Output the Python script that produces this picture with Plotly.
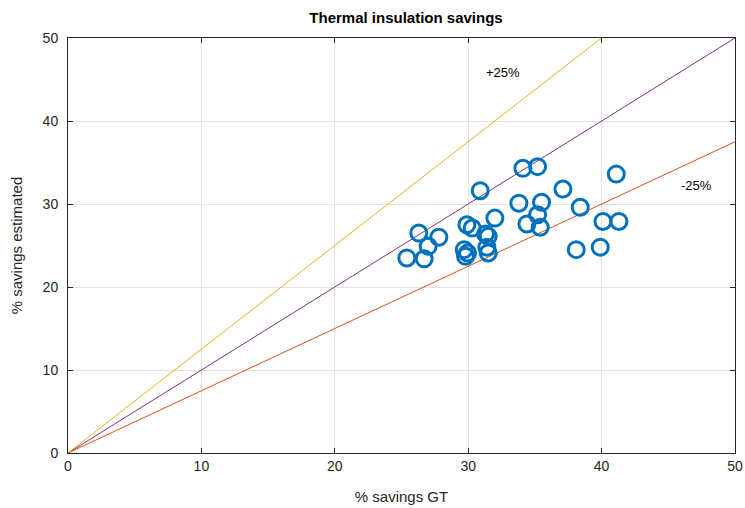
import plotly.graph_objects as go

gt = [25.4, 26.3, 26.7, 27.0, 27.8, 29.9, 30.3, 29.7, 29.8, 29.95, 30.9, 31.3, 31.5, 31.4, 31.5, 32.0,
      34.1, 35.2, 33.8, 34.4, 35.2, 35.5, 35.4, 37.1, 38.4, 38.1, 39.9, 40.1, 41.1, 41.3]
est = [23.5, 26.5, 23.4, 24.9, 26.0, 27.5, 27.1, 24.5, 23.7, 24.1, 31.6, 26.4, 26.1, 24.8, 24.1, 28.3,
       34.3, 34.5, 30.1, 27.6, 28.7, 30.2, 27.2, 31.8, 29.6, 24.5, 24.8, 27.9, 33.6, 27.9]

ref_x = [0, 50]
plus_x = [0, 40]
plus_y = [0, 50]
ident_y = [0, 50]
minus_y = [0, 37.5]

fig = go.Figure()
fig.add_trace(go.Scatter(x=ref_x, y=ident_y, mode="lines", line=dict(color="#7E2F8E", width=1), showlegend=False))
fig.add_trace(go.Scatter(x=plus_x, y=plus_y, mode="lines", line=dict(color="#EDB120", width=1), showlegend=False))
fig.add_trace(go.Scatter(x=ref_x, y=minus_y, mode="lines", line=dict(color="#D95319", width=1), showlegend=False))
fig.add_trace(go.Scatter(x=gt, y=est, mode="markers",
                         marker=dict(symbol="circle-open", size=16, color="#0072BD", line=dict(width=3, color="#0072BD")),
                         showlegend=False))

fig.add_annotation(x=32.6, y=45.8, text="+25%", showarrow=False, font=dict(size=13, color="black"))
fig.add_annotation(x=47.1, y=32.2, text="-25%", showarrow=False, font=dict(size=13, color="black"))

axis_common = dict(range=[0, 50], tickvals=[0, 10, 20, 30, 40, 50], showgrid=True, gridcolor="#e3e3e3",
                   gridwidth=1, zeroline=False, showline=True, linecolor="#262626", linewidth=1, mirror="ticks",
                   ticks="inside", ticklen=5, tickcolor="#262626", tickfont=dict(size=14, color="#262626"),
                   ticklabeloverflow="allow", automargin=False)

fig.update_xaxes(**axis_common, title=dict(text="% savings GT", font=dict(size=15, color="#262626"), standoff=18))
fig.update_yaxes(**axis_common, ticklabelstandoff=6,
                 title=dict(text="% savings estimated", font=dict(size=15, color="#262626"), standoff=16))

fig.update_layout(
    width=745, height=508,
    margin=dict(l=68, r=10, t=38, b=55),
    paper_bgcolor="white", plot_bgcolor="white",
    font=dict(family="Liberation Sans, Arial, sans-serif"),
    title=dict(text="<b>Thermal insulation savings</b>", x=0.545, xanchor="center", y=0.965, yanchor="middle",
               font=dict(size=15, color="black")),
)

fig.write_html("out.html")
